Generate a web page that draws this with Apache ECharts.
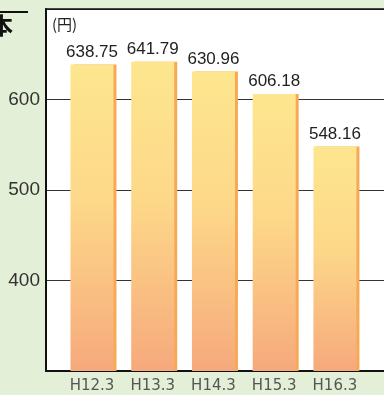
<!DOCTYPE html>
<html><head><meta charset="utf-8">
<script src="https://cdn.jsdelivr.net/npm/echarts@6/dist/echarts.min.js"></script>
<style>html,body{margin:0;padding:0;background:#e4efd7;}#c{width:384px;height:395px;}</style>
</head><body><div id="c"></div>
<script>
const categories = ['H12.3', 'H13.3', 'H14.3', 'H15.3', 'H16.3'];
const values = [638.75, 641.79, 630.96, 606.18, 548.16];
const yTicks = [300, 400, 500, 600, 700];
const yUnit = '(円)';
const titleFragment = '本';

const chart = echarts.init(document.getElementById('c'), null, {renderer: 'canvas'});
const barData = values.map((v, i) => [i, v]);
chart.setOption({
  backgroundColor: '#e4efd7',
  animation: false,
  grid: {left: 46, top: 9, width: 350, height: 362, show: true, backgroundColor: '#ffffff', borderWidth: 0},
  graphic: [
    {type: 'line', shape: {x1: 0, y1: 12, x2: 28, y2: 12}, style: {stroke: '#111', lineWidth: 2}},
    {type: 'text', left: -10, top: 14, style: {text: titleFragment, font: 'bold 23px "Noto Sans CJK JP"', fill: '#111'}}
  ],
  xAxis: [{
    type: 'value', min: -0.757, max: 4.808,
    splitLine: {show: false},
    axisLine: {show: true, onZero: false, lineStyle: {color: '#111', width: 2}},
    axisTick: {show: false},
    axisLabel: {
      customValues: categories.map((c, i) => i),
      formatter: v => categories[Math.round(v)],
      color: '#555', fontSize: 15, fontFamily: 'DejaVu Sans', margin: 8
    }
  }, {
    type: 'value', position: 'top', min: -0.757, max: 4.808,
    splitLine: {show: false},
    axisLine: {show: true, onZero: false, lineStyle: {color: '#111', width: 1.5}},
    axisTick: {show: false},
    axisLabel: {show: false}
  }],
  yAxis: {
    type: 'value', min: yTicks[0], max: yTicks[yTicks.length - 1], interval: 100,
    name: yUnit, nameLocation: 'end', nameGap: -15,
    nameTextStyle: {align: 'left', verticalAlign: 'middle', color: '#222', fontSize: 15, fontFamily: 'Noto Sans CJK JP', padding: [0, 0, 0, 6]},
    axisLine: {show: true, onZero: false, lineStyle: {color: '#111', width: 2}},
    axisTick: {show: false},
    axisLabel: {
      color: '#333', fontSize: 19, fontFamily: 'Liberation Sans', margin: 6,
      formatter: v => (v === 300 || v === 700) ? '' : String(v)
    },
    splitLine: {show: true, lineStyle: {color: '#333', width: 1}}
  },
  series: [{
    type: 'bar',
    data: barData,
    barWidth: 43,
    itemStyle: {
      color: new echarts.graphic.LinearGradient(0, 0, 0, 1, [
        {offset: 0, color: '#fde68e'},
        {offset: 0.45, color: '#fdd889'},
        {offset: 1, color: '#f6a97c'}
      ]),
      shadowColor: '#f8a955', shadowOffsetX: 3, shadowOffsetY: 0, shadowBlur: 0
    },
    label: {
      show: true, position: 'top', distance: 4,
      formatter: p => p.value[1].toFixed(2),
      color: '#222', fontSize: 17, fontFamily: 'Liberation Sans'
    }
  }]
});
</script></body></html>
